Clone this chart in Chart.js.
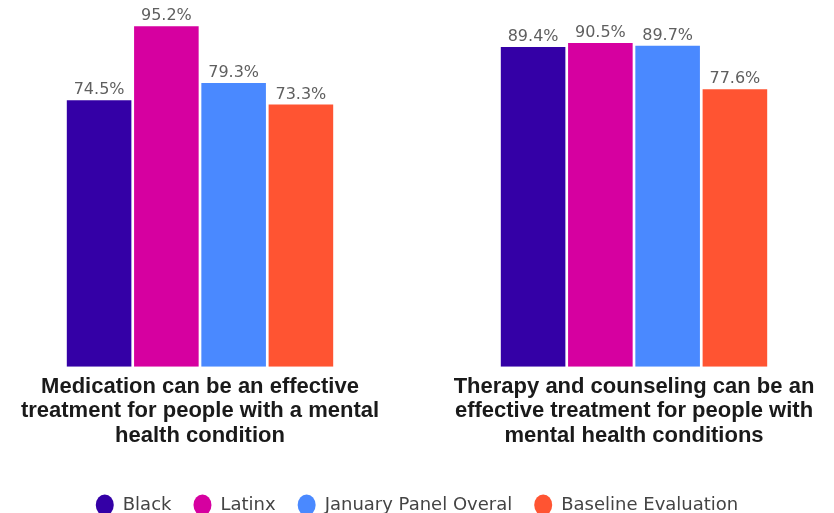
<!DOCTYPE html>
<html>
<head>
<meta charset="utf-8">
<script src="https://cdn.jsdelivr.net/npm/chart.js@4.4.1/dist/chart.umd.min.js"></script>
<style>
  html, body { margin: 0; padding: 0; background: #fff; overflow: hidden; }
  #wrap { position: absolute; left: -17px; top: 0; width: 868px; height: 524px; }
</style>
</head>
<body>
<div id="wrap"><canvas id="chart" width="868" height="524"></canvas></div>
<script>
// ---- data ----
const categories = [
    ["Medication can be an effective", "treatment for people with a mental", "health condition"],
    ["Therapy and counseling can be an", "effective treatment for people with", "mental health conditions"]
];
const seriesNames = ["Black", "Latinx", "January Panel Overal", "Baseline Evaluation"];
const blackValues = [74.5, 89.4];
const latinxValues = [95.2, 90.5];
const panelValues = [79.3, 89.7];
const baselineValues = [73.3, 77.6];
const seriesColors = ["#3400a6", "#d600a0", "#4a89ff", "#ff5432"];

// valores em cima das barras
const valueLabels = {
    id: "valueLabels",
    afterDatasetsDraw(chart) {
        const ctx = chart.ctx;
        ctx.save();
        ctx.font = "16px 'DejaVu Sans'";
        ctx.fillStyle = "#5f5f5f";
        ctx.textAlign = "center";
        ctx.textBaseline = "bottom";
        chart.data.datasets.forEach((ds, i) => {
            chart.getDatasetMeta(i).data.forEach((bar, j) => {
                ctx.fillText(ds.data[j].toFixed(1) + "%", bar.x, bar.y - 2);
            });
        });
        ctx.restore();
    }
};

const allValues = [blackValues, latinxValues, panelValues, baselineValues];

new Chart(document.getElementById("chart"), {
    type: "bar",
    data: {
        labels: categories,
        datasets: seriesNames.map((name, i) => ({
            label: name,
            data: allValues[i],
            backgroundColor: seriesColors[i],
            borderWidth: 0,
            categoryPercentage: 0.62,
            barPercentage: 0.96
        }))
    },
    options: {
        responsive: false,
        animation: false,
        layout: { padding: { top: 9, left: 0, right: 0, bottom: 0 } },
        scales: {
            x: {
                grid: { display: false },
                border: { display: false },
                ticks: {
                    color: "#1a1a1a",
                    font: { family: "'Liberation Sans'", size: 22, weight: "bold", lineHeight: 1.11 },
                    padding: 0,
                    maxRotation: 0
                }
            },
            y: {
                display: false,
                min: 0,
                max: 100
            }
        },
        plugins: {
            legend: {
                position: "bottom",
                title: { display: true, text: " ", font: { size: 10 }, padding: { top: 6, bottom: 8 } },
                labels: {
                    usePointStyle: true,
                    pointStyle: "circle",
                    pointStyleWidth: 18,
                    boxHeight: 15,
                    color: "#444",
                    padding: 22,
                    font: { family: "'DejaVu Sans'", size: 18 }
                }
            },
            tooltip: { enabled: false }
        }
    },
    plugins: [valueLabels]
});
</script>
</body>
</html>
